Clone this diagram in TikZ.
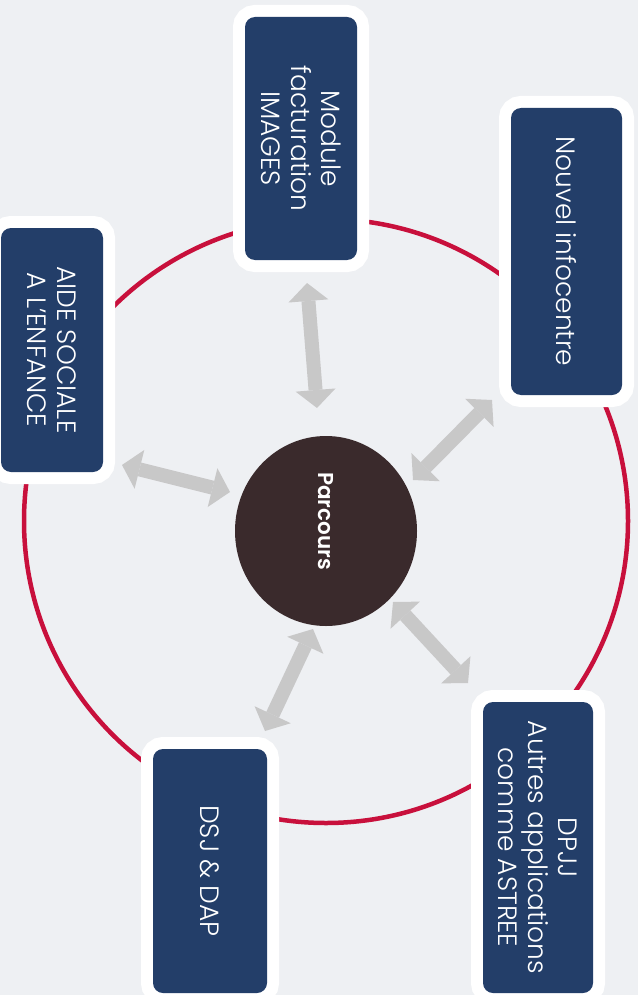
\documentclass[tikz,border=0pt]{standalone}
\usepackage{fontspec}
\setmainfont{Poppins}[UprightFont=* Light, BoldFont=* SemiBold]
\usetikzlibrary{shapes.geometric,arrows.meta}
\definecolor{bgc}{RGB}{238,240,243}
\definecolor{navy}{RGB}{35,62,105}
\definecolor{ringred}{RGB}{200,16,60}
\definecolor{darkbrown}{RGB}{58,42,44}
\definecolor{arrowgray}{RGB}{200,200,200}
\begin{document}
\begin{tikzpicture}[x=1pt,y=1pt,
  box/.style={rectangle, rounded corners=10pt, fill=navy,
    preaction={draw=white, line width=24pt},
    rotate=-90, text=white, align=center,
    font=\fontsize{26.5}{30}\selectfont, inner sep=0pt},
  dbl/.style={draw=arrowgray, line width=14pt, {Triangle[width=40pt,length=18pt,line width=0pt]}-{Triangle[width=40pt,length=18pt,line width=0pt]}}]
\useasboundingbox (0,0) rectangle (638,-995);
\fill[bgc] (0,0) rectangle (638,-995);
% ring
\node[circle, draw=ringred, line width=4.5pt, minimum size=604pt, inner sep=0pt] (ring) at (326,-521) {};
% arrow ends
\coordinate (a1s) at (317,-408); \coordinate (a1e) at (307,-283);
\coordinate (a2s) at (413,-480); \coordinate (a2e) at (492,-400);
\coordinate (a3s) at (230,-492); \coordinate (a3e) at (122,-465);
\coordinate (a4s) at (313,-629); \coordinate (a4e) at (265,-731);
\coordinate (a5s) at (393,-602); \coordinate (a5e) at (468,-683);
\draw[dbl] (a1s) -- (a1e);
\draw[dbl] (a2s) -- (a2e);
\draw[dbl] (a3s) -- (a3e);
\draw[dbl] (a4s) -- (a4e);
\draw[dbl] (a5s) -- (a5e);
% boxes
\node[box, minimum width=243pt, minimum height=112pt] (mod) at (301,-138.5) {Module\\facturation\\IMAGES};
\node[box, minimum width=287pt, minimum height=111pt] (info) at (566.5,-251.5) {Nouvel infocentre};
\node[box, minimum width=244pt, minimum height=102pt] (ase) at (52,-350) {AIDE SOCIALE\\A L'ENFANCE};
\node[box, minimum width=244pt, minimum height=114pt] (dsj) at (210,-871) {DSJ \& DAP};
\node[box, minimum width=291pt, minimum height=110pt] (dpjj) at (538,-847.5) {DPJJ\\Autres applications\\comme ASTREE};
% center
\node[ellipse, fill=darkbrown, minimum width=190pt, minimum height=182pt, rotate=-90,
  text=white, font=\bfseries\fontsize{21.5}{24}\selectfont] (parc) at (326,-531) {Parcours\hbox to 20pt{}};
\end{tikzpicture}
\end{document}
